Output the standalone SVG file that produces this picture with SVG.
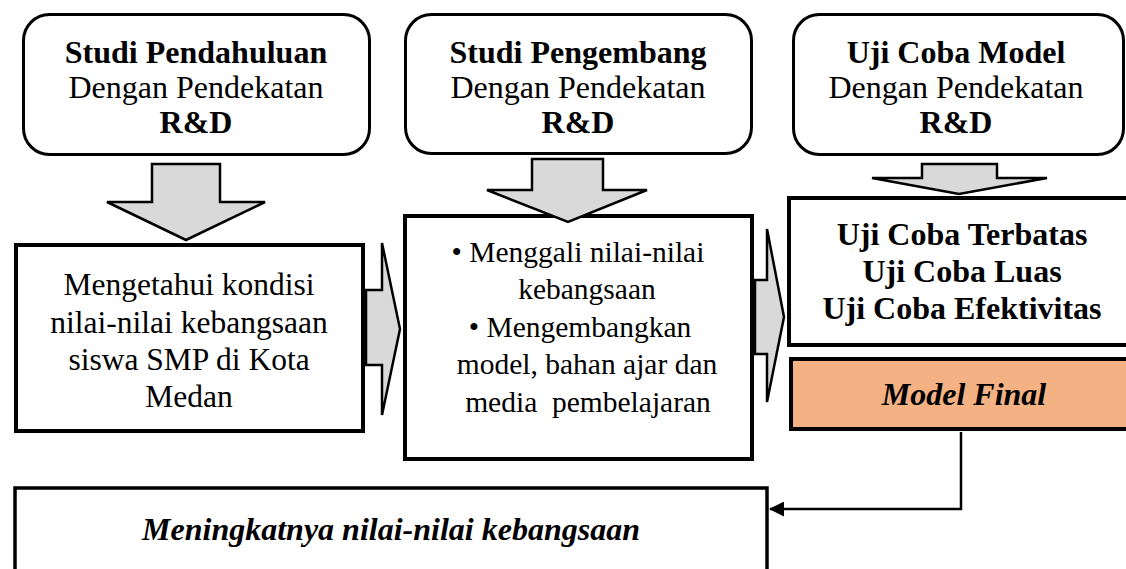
<svg xmlns="http://www.w3.org/2000/svg" width="1126" height="569" viewBox="0 0 1126 569">
<defs>
<style>
text{font-family:"Liberation Serif","Times New Roman",serif;fill:#000;text-anchor:middle}
.t32{font-size:32px}
.b{font-weight:bold}
.i{font-style:italic}
.m31{font-size:31.5px}
.m29{font-size:29.5px}
.rbox{fill:#fff;stroke:#000;stroke-width:3}
.box{fill:#fff;stroke:#000;stroke-width:4}
.final{fill:#F4B183;stroke:#000;stroke-width:4}
.blk{fill:#D9D9D9;stroke:#000;stroke-width:2.5;stroke-linejoin:miter}
.line{fill:none;stroke:#000;stroke-width:2.5}
</style>
<marker id="ah" markerWidth="6" markerHeight="6" refX="5.6" refY="3" orient="auto" markerUnits="strokeWidth">
<path d="M0,0 L6,3 L0,6 Z" fill="#000"/>
</marker>
</defs>
<rect width="1126" height="569" fill="#fff"/>

<g id="studi-pendahuluan">
<rect class="rbox" x="23.5" y="14.5" width="346" height="140" rx="26"/>
<text class="t32 b" x="196" y="63">Studi Pendahuluan</text>
<text class="t32" x="196" y="98">Dengan Pendekatan</text>
<text class="t32 b" x="196" y="133">R&amp;D</text>
</g>

<g id="studi-pengembang">
<rect class="rbox" x="405.5" y="14.5" width="346" height="139" rx="26"/>
<text class="t32 b" x="578" y="63">Studi Pengembang</text>
<text class="t32" x="578" y="98">Dengan Pendekatan</text>
<text class="t32 b" x="578" y="133">R&amp;D</text>
</g>

<g id="uji-coba-model">
<rect class="rbox" x="793.5" y="14.5" width="330" height="140" rx="26"/>
<text class="t32 b" x="956" y="63">Uji Coba Model</text>
<text class="t32" x="956" y="98">Dengan Pendekatan</text>
<text class="t32 b" x="956" y="133">R&amp;D</text>
</g>

<g id="connectors">
<polygon class="blk" points="152,164 220,164 220,202 265,202 186,240 107,202 152,202"/>
<polygon class="blk" points="366,290 382,290 382,243 400,329 382,415 382,365 366,365"/>
<polygon class="blk" points="755,280 767,280 767,229 784,317 767,402 767,354 755,354"/>
<path class="line" d="M961,432 V509 H770" marker-end="url(#ah)"/>
</g>

<g id="mengetahui">
<rect class="box" x="16" y="245" width="347" height="186"/>
<text class="m31" x="189" y="295">Mengetahui kondisi</text>
<text class="m31" x="189" y="333">nilai-nilai kebangsaan</text>
<text class="m31" x="189" y="370">siswa SMP di Kota</text>
<text class="m31" x="189" y="407">Medan</text>
</g>

<g id="menggali">
<rect class="box" x="405" y="216" width="347" height="243"/>
<text class="m29" x="578" y="262">• Menggali nilai-nilai</text>
<text class="m29" x="587" y="299">kebangsaan</text>
<text class="m29" x="580" y="337">• Mengembangkan</text>
<text class="m29" x="587" y="374">model, bahan ajar dan</text>
<text class="m29" x="588" y="412" xml:space="preserve">media  pembelajaran</text>
</g>

<g id="uji-coba">
<rect class="box" x="789" y="198" width="400" height="147"/>
<text class="t32 b" x="962" y="245">Uji Coba Terbatas</text>
<text class="t32 b" x="962" y="282">Uji Coba Luas</text>
<text class="t32 b" x="962" y="319">Uji Coba Efektivitas</text>
</g>

<g id="model-final">
<rect class="final" x="791" y="359" width="400" height="70"/>
<text class="t32 b i" x="964" y="405">Model Final</text>
</g>

<g id="meningkatnya">
<rect class="box" style="stroke-width:3.5" x="15" y="488" width="752" height="120"/>
<text class="t32 b i" x="391" y="540">Meningkatnya nilai-nilai kebangsaan</text>
</g>

<!-- arrows drawn over box tops -->
<g id="down-arrows">
<polygon class="blk" points="532,159 603,159 603,190 647,190 568,222 487,190 532,190"/>
<polygon class="blk" points="922,164 997,164 997,178 1047,178 959,194 872,178 922,178"/>
</g>
</svg>
